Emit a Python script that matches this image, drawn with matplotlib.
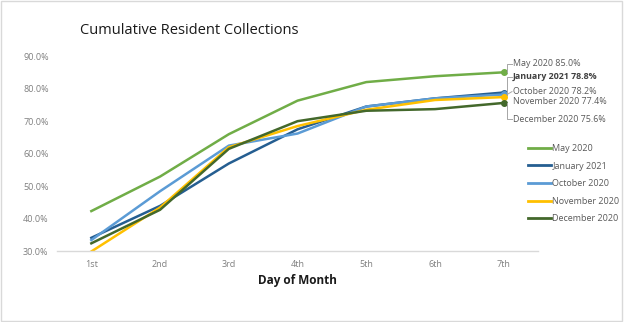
import numpy as np
import matplotlib.pyplot as plt
from matplotlib.patches import Rectangle

plt.rcParams['font.family'] = ['Open Sans', 'DejaVu Sans']

days = ['1st', '2nd', '3rd', '4th', '5th', '6th', '7th']
series_names = ['May 2020', 'January 2021', 'October 2020', 'November 2020', 'December 2020']
may_2020 = [42.4, 53.0, 66.0, 76.3, 82.0, 83.8, 85.0]
jan_2021 = [34.2, 44.0, 57.0, 67.5, 74.5, 77.0, 78.8]
oct_2020 = [33.5, 48.5, 62.5, 66.2, 74.5, 77.0, 78.2]
nov_2020 = [30.0, 43.5, 62.0, 68.5, 73.5, 76.5, 77.4]
dec_2020 = [32.5, 42.8, 61.5, 70.0, 73.2, 73.7, 75.6]
colors = ['#70AD47', '#255E91', '#5B9BD5', '#FFC000', '#43682B']

all_series = [may_2020, jan_2021, oct_2020, nov_2020, dec_2020]

fig = plt.figure(figsize=(6.24, 3.22), dpi=100)
ax = fig.add_axes([0.0913, 0.219, 0.771, 0.607])

x = np.arange(len(days))
for name, vals, c in zip(series_names, all_series, colors):
    ax.plot(x, vals, color=c, lw=1.8, label=name, solid_joinstyle='round')
    ax.plot(x[-1], vals[-1], 'o', color=c, ms=4)

ax.set_xlim(-0.5, len(days) - 0.5)
ax.set_ylim(30, 90)
ax.set_xticks(x)
ax.set_xticklabels(days)
ax.set_yticks(np.arange(30, 91, 10))
ax.set_yticklabels([f'{v:.1f}%' for v in np.arange(30, 91, 10)])
ax.tick_params(length=0, labelsize=6.5, colors='#7F7F7F', pad=6)
for s in ['top', 'right', 'left']:
    ax.spines[s].set_visible(False)
ax.spines['bottom'].set_color('#D9D9D9')
ax.spines['bottom'].set_linewidth(1)
ax.set_xlabel('Day of Month', fontsize=8.5, fontweight='bold', color='#1a1a1a', labelpad=4)

fig.text(0.128, 1 - 31 / 322, 'Cumulative Resident Collections', fontsize=10.5,
         color='#1a1a1a', va='center')

# end-of-line data labels with small leader brackets
label_y = [64, 77, 92, 102, 119]  # pixel rows of the labels
tx = 513 / 624
for i, (name, vals) in enumerate(zip(series_names, all_series)):
    fy = 1 - label_y[i] / 322
    fig.text(tx, fy, f'{name} {vals[-1]:.1f}%', fontsize=6.4, va='center',
             color='#404040' if i == 1 else '#595959',
             fontweight='bold' if i == 1 else 'normal')

def py(p):
    return 30 + (251.5 - p) / 3.25

lead = dict(color='#A6A6A6', lw=0.7, clip_on=False)
xe = 6.0
dx = 0.05
ax.plot([xe + dx, xe + dx, xe + 0.12], [may_2020[-1], py(64), py(64)], **lead)
ax.plot([xe + 0.12, xe + dx, xe + dx], [py(77), py(77), jan_2021[-1]], **lead)
ax.plot([xe + dx, xe + 0.12], [oct_2020[-1], py(92)], **lead)
ax.plot([xe + dx, xe + dx, xe + 0.12], [dec_2020[-1], py(119), py(119)], **lead)

leg = ax.legend(loc='upper left', bbox_to_anchor=(528 / 624, 1 - 144 / 322),
                bbox_transform=fig.transFigure, frameon=False, fontsize=6.5,
                handlelength=2.6, handletextpad=0.1, labelspacing=0.95, borderpad=0,
                borderaxespad=0, labelcolor='#595959')
for h in leg.get_lines():
    h.set_linewidth(2.0)

fig.patches.append(Rectangle((0.002, 0.003), 0.994, 0.993, transform=fig.transFigure,
                             fill=False, edgecolor='#D9D9D9', lw=1))

fig.savefig('out.png', dpi=100)
